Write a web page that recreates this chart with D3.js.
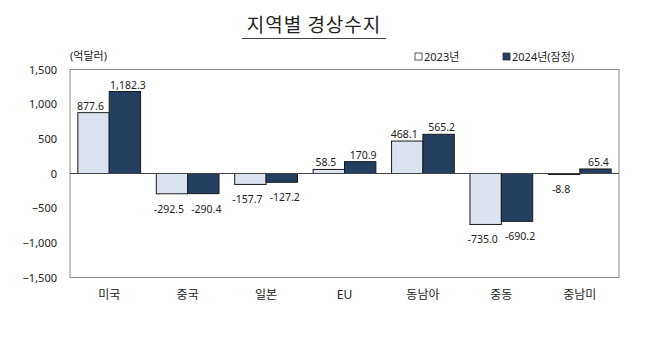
<!DOCTYPE html>
<html><head><meta charset="utf-8">
<script src="https://cdn.jsdelivr.net/npm/d3@7"></script>
<style>body{margin:0;background:#fff}svg{display:block}</style>
</head><body><svg id="c" width="658" height="342"></svg>
<script>
const categories = ["미국","중국","일본","EU","동남아","중동","중남미"];
const seriesNames = ["2023년","2024년(잠정)"];
const values2023 = [877.6,-292.5,-157.7,58.5,468.1,-735.0,-8.8];
const values2024 = [1182.3,-290.4,-127.2,170.9,565.2,-690.2,65.4];
const yTicks = [-1500,-1000,-500,0,500,1000,1500];
const colors = ["#dae3ef","#243f60"];

const svg = d3.select("#c");
const font = "'Noto Sans','Noto Sans CJK KR',sans-serif";
const L=70,R=619,T=69.5,B=277.5;
const x0 = d3.scaleBand().domain(categories).range([L,R]).paddingInner(0.2).paddingOuter(0.1);
const x1 = d3.scaleBand().domain([0,1]).range([0,x0.bandwidth()]);
const y = d3.scaleLinear().domain([-1500,1500]).range([B,T]);

// title
svg.append("text").attr("x",314).attr("y",32).attr("text-anchor","middle")
  .attr("font-family","'Noto Sans CJK KR',sans-serif").attr("font-size",19).attr("fill","#222")
  .attr("letter-spacing",1).text("지역별 경상수지");
svg.append("line").attr("x1",242).attr("x2",386).attr("y1",38.5).attr("y2",38.5).attr("stroke","#444").attr("stroke-width",1.2);

// unit
svg.append("text").attr("x",70).attr("y",60).attr("font-family",font).attr("font-size",11).attr("fill","#222").text("(억달러)");

// legend
const lg = [{x:415,t:seriesNames[0],c:colors[0]},{x:503,t:seriesNames[1],c:colors[1]}];
lg.forEach((d,i)=>{
  svg.append("rect").attr("x",d.x).attr("y",53).attr("width",7).attr("height",7)
    .attr("fill",i==0?"#fff":d.c).attr("stroke","#333").attr("stroke-width",0.8);
  svg.append("text").attr("x",d.x+9).attr("y",61).attr("font-family",font).attr("font-size",11).attr("fill","#222").text(d.t);
});

// frame
svg.append("rect").attr("x",L).attr("y",T).attr("width",R-L).attr("height",B-T)
  .attr("fill","none").attr("stroke","#8c8c8c").attr("stroke-width",1);

// y axis
const ya = svg.append("g").attr("transform",`translate(${L},0)`)
  .call(d3.axisLeft(y).tickValues(yTicks).tickSize(0).tickPadding(13).tickFormat(d3.format(",")));
ya.select(".domain").remove();
ya.selectAll("text").attr("font-family",font).attr("font-size",11).attr("fill","#222");

// x axis labels
const xa = svg.append("g").attr("transform",`translate(0,${B})`)
  .call(d3.axisBottom(x0).tickSize(0).tickPadding(13));
xa.select(".domain").remove();
xa.selectAll("text").attr("font-family",font).attr("font-size",12).attr("fill","#222");

// bars
const series=[values2023,values2024];
const data=[];
categories.forEach((c,i)=>series.forEach((s,j)=>data.push({c,j,v:s[i]})));
svg.append("g").selectAll("rect").data(data).join("rect")
  .attr("x",d=>x0(d.c)+x1(d.j))
  .attr("y",d=>y(Math.max(0,d.v)))
  .attr("width",x1.bandwidth())
  .attr("height",d=>Math.max(1,Math.abs(y(d.v)-y(0))))
  .attr("fill",d=>colors[d.j]).attr("stroke","#1a1a1a").attr("stroke-width",1);

// zero line
svg.append("line").attr("x1",L).attr("x2",R).attr("y1",y(0)).attr("y2",y(0)).attr("stroke","#444").attr("stroke-width",1);

// value labels
const fmt=d3.format(",.1f");
svg.append("g").selectAll("text").data(data).join("text")
  .attr("x",d=>x0(d.c)+x1(d.j)+x1.bandwidth()/2 + (d.j==0?-3:3))
  .attr("y",d=>d.v>=0? y(d.v)-3 : y(d.v)+19)
  .attr("text-anchor","middle").attr("font-family",font).attr("font-size",10.5).attr("fill","#222")
  .text(d=>fmt(d.v).replace("−","-"));
</script></body></html>
